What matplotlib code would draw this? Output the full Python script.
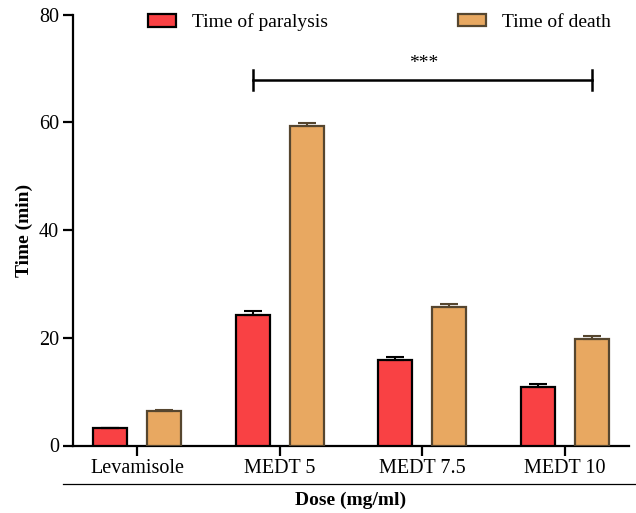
import matplotlib
matplotlib.use("Agg")
import matplotlib.pyplot as plt
from matplotlib.lines import Line2D
from matplotlib.patches import Patch
import numpy as np

categories = ["Levamisole", "MEDT 5", "MEDT 7.5", "MEDT 10"]
paralysis = [3.2, 24.2, 15.8, 10.8]
paralysis_err = [0.1, 0.7, 0.6, 0.6]
death = [6.4, 59.4, 25.8, 19.8]
death_err = [0.25, 0.4, 0.5, 0.55]
yticks = [0, 20, 40, 60, 80]

plt.rcParams['font.family'] = ['Liberation Serif', 'DejaVu Serif']
plt.rcParams['font.size'] = 14

W, H = 636, 513
fig = plt.figure(figsize=(W / 100, H / 100), dpi=100)
ax = fig.add_axes([73 / W, (H - 445.5) / H, (629 - 73) / W, (445.5 - 14.7) / H])

red = "#F94144"
orange = "#E8A861"
brown = "#56462F"
x = np.arange(len(categories))
bw = 0.238
off = 0.19

ax.bar(x - off, paralysis, bw, color=red, edgecolor="black", linewidth=1.6, zorder=3)
ax.bar(x + off, death, bw, color=orange, edgecolor=brown, linewidth=1.6, zorder=3)
ax.errorbar(x - off, paralysis, yerr=[np.zeros(len(x)), paralysis_err], fmt="none",
            ecolor="black", elinewidth=1.5, capsize=6.5, capthick=1.5, zorder=4)
ax.errorbar(x + off, death, yerr=[np.zeros(len(x)), death_err], fmt="none",
            ecolor=brown, elinewidth=1.5, capsize=6.5, capthick=1.5, zorder=4)

ax.set_xlim(-0.449, 3.449)
ax.set_ylim(0, 80)
ax.set_yticks(yticks)
ax.set_xticks(x)
ax.set_xticklabels(categories)

for s in ["top", "right"]:
    ax.spines[s].set_visible(False)
for s in ["left", "bottom"]:
    ax.spines[s].set_linewidth(1.6)
ax.tick_params(axis="both", direction="out", length=7, width=1.6, labelsize=14.5, pad=3)

ax.set_ylabel("Time (min)", fontweight="bold", fontsize=14, labelpad=4)

# Significance bracket
x1, x2 = 1 - off, 3 + off
yb = 67.9
ax.plot([x1, x2], [yb, yb], color="black", lw=1.8, clip_on=False)
ax.plot([x1, x1], [yb - 1.85, yb + 1.85], color="black", lw=1.8, clip_on=False)
ax.plot([x2, x2], [yb - 1.85, yb + 1.85], color="black", lw=1.8, clip_on=False)
ax.text((x1 + x2) / 2 + 0.01, 70.1, "***", ha="center", va="baseline", fontsize=14)

# Legends
h1 = Patch(facecolor=red, edgecolor="black", linewidth=1.6)
h2 = Patch(facecolor=orange, edgecolor=brown, linewidth=1.6)
leg1 = ax.legend([h1], ["Time of paralysis"], loc="center left",
                 bbox_to_anchor=((148 - 73) / (629 - 73), 0.982), frameon=False,
                 borderpad=0, borderaxespad=0, handlelength=1.45, handleheight=0.6,
                 handletextpad=0.8, fontsize=14)
ax.add_artist(leg1)
ax.legend([h2], ["Time of death"], loc="center left",
          bbox_to_anchor=((458 - 73) / (629 - 73), 0.982), frameon=False,
          borderpad=0, borderaxespad=0, handlelength=1.45, handleheight=0.6,
          handletextpad=0.8, fontsize=14)

# Separator line and x label
fig.add_artist(Line2D([63 / W, 1.0], [(H - 484) / H, (H - 484) / H], color="black", lw=0.9))
fig.text((73 + 629) / 2 / W, (H - 500) / H, "Dose (mg/ml)", ha="center", va="center",
         fontweight="bold", fontsize=14)

fig.savefig("out.png", dpi=100)
